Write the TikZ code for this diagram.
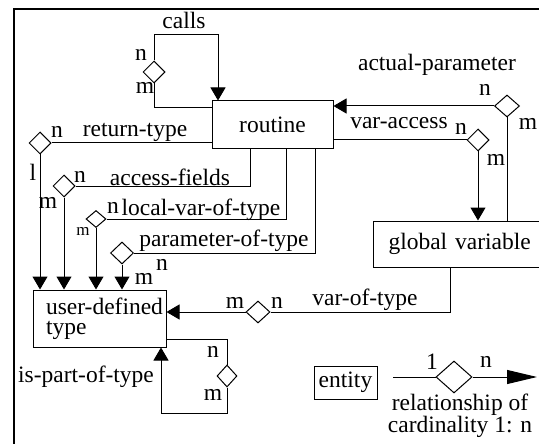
\documentclass[tikz,border=0pt]{standalone}
\usepackage{fontspec}
\setmainfont{Liberation Serif}
\usetikzlibrary{shapes.geometric,arrows.meta}
\begin{document}
\begin{tikzpicture}[x=1pt,y=-1pt,
  ent/.style={draw, line width=1pt, inner sep=0pt, fill=white, font=\rmfamily\fontsize{23.5}{20}\selectfont},
  rel/.style={draw, diamond, inner sep=0pt, minimum width=22pt, minimum height=22pt, line width=1pt, fill=white},
  lab/.style={inner sep=0pt, font=\rmfamily\fontsize{23.5}{20}\selectfont},
  smalllab/.style={inner sep=0pt, font=\rmfamily\fontsize{17}{17}\selectfont},
  conn/.style={line width=1pt},
  arr/.style={conn, -{Triangle[width=15pt,length=13pt]}}]
\useasboundingbox (0,0) rectangle (539,444);
\clip (0,0) rectangle (539,444);
\fill[white] (0,0) rectangle (539,444);
\draw[line width=1.3pt] (14,9) rectangle (600,500);

% entities
\node[ent, minimum width=121pt, minimum height=48pt] (routine) at (272.5,125) {routine};
\node[ent, minimum width=200pt, minimum height=46pt, anchor=west, text width=170pt, inner xsep=15pt, align=left] (gv) at (373,244) {global variable};
\node[ent, minimum width=133pt, minimum height=57pt, text width=120pt, inner xsep=6.5pt, align=left] (udt) at (99.5,318.5) {\hspace*{6.5pt}\mbox{user-defined}\\\hspace*{6.5pt}type};
\node[ent, minimum width=63pt, minimum height=33pt] (entity) at (345.5,382.5) {entity};

% relationships
\node[rel] (dcalls) at (154,72) {};
\node[rel] (dret) at (40,143) {};
\node[rel] (dacc) at (64,186) {};
\node[rel, minimum width=20pt, minimum height=17pt] (dloc) at (96,219) {};
\node[rel, minimum width=23pt, minimum height=22pt] (dpar) at (122,253) {};
\node[rel, minimum width=24pt] (dvar) at (258,312) {};
\node[rel, minimum width=25pt] (dact) at (507,106) {};
\node[rel] (dva) at (478,140) {};
\node[rel, minimum width=20pt] (dpart) at (227,376) {};
\node[rel, minimum width=36pt, minimum height=32pt] (dleg) at (454,377) {};

% calls
\draw[conn] (routine.west |- 0,108) -- (dcalls.south |- 0,108) -- (dcalls.south);
\draw[arr] (dcalls.north) -- (154,35) -- (218,35) -- (218,35 |- routine.north);
% return-type
\draw[conn] (routine.west |- dret) -- (dret.east);
\draw[arr] (dret.south) -- (dret.south |- udt.north);
% access-fields
\draw[conn] (dacc.east) -- (250,186) -- (250,186 |- routine.south);
\draw[arr] (dacc.south) -- (dacc.south |- udt.north);
% local-var-of-type
\draw[conn] (dloc.east) -- (286,219) -- (286,219 |- routine.south);
\draw[arr] (dloc.south) -- (dloc.south |- udt.north);
% parameter-of-type
\draw[conn] (dpar.east) -- (315,253) -- (315,253 |- routine.south);
\draw[arr] (dpar.south) -- (dpar.south |- udt.north);
% var-of-type
\draw[conn] (450,0 |- gv.south) -- (450,312) -- (dvar.east);
\draw[arr] (dvar.west) -- (dvar.west -| udt.east);
% actual-parameter
\draw[arr] (dact.west) -- (dact.west -| routine.east);
\draw[conn] (dact.south) -- (dact.south |- gv.north);
% var-access
\draw[conn] (routine.east |- dva) -- (dva.west);
\draw[arr] (dva.south) -- (dva.south |- gv.north);
% is-part-of-type
\draw[conn] (udt.east |- 0,339) -- (dpart.north |- 0,339) -- (dpart.north);
\draw[arr] (dpart.south) -- (227,413) -- (161,413) -- (161,413 |- udt.south);
% legend
\coordinate (lstart) at (393,377);
\coordinate (lend) at (537,377);
\draw[conn] (lstart) -- (dleg.west);
\draw[conn, -{Triangle[width=14pt,length=30pt]}] (dleg.east) -- (lend);

% labels
\node[lab] (tcalls) at (184,20) {calls};
\node[lab] (tcn) at (141,55) {n};
\node[lab] (tcm) at (145,88) {m};
\node[lab] (tretn) at (57,132) {n};
\node[lab] (tret) at (135,132) {return-type};
\node[lab] (tret1) at (33,172) {l};
\node[lab] (taccn) at (80,177) {n};
\node[lab] (tacc) at (170,177) {access-fields};
\node[lab] (taccm) at (48,203) {m};
\node[lab] (tlocn) at (113,208) {n};
\node[lab] (tloc) at (201,210) {local-var-of-type};
\node[smalllab] (tlocm) at (83,231) {m};
\node[lab] (tpar) at (224,241) {parameter-of-type};
\node[lab] (tparn) at (162,265) {n};
\node[lab] (tparm) at (144,279) {m};
\node[lab] (tvarm) at (235,303) {m};
\node[lab] (tvarn) at (277,303) {n};
\node[lab] (tvar) at (365,300) {var-of-type};
\node[lab] (tact) at (437,65) {actual-parameter};
\node[lab] (tactn) at (485,90) {n};
\node[lab] (tactm) at (528,124) {m};
\node[lab] (tva) at (399,123) {var-access};
\node[lab] (tvan) at (461,129) {n};
\node[lab] (tvam) at (496,160) {m};
\node[lab] (tpartn) at (213,352) {n};
\node[lab] (tpartm) at (213,395) {m};
\node[lab] (tpart) at (86,377) {is-part-of-type};
\node[lab] (tleg1) at (432,362) {1};
\node[lab] (tlegn) at (486,362) {n};
\node[lab, align=center] (tlegtxt) at (460,416) {relationship of\\cardinality 1: n};
\end{tikzpicture}
\end{document}
